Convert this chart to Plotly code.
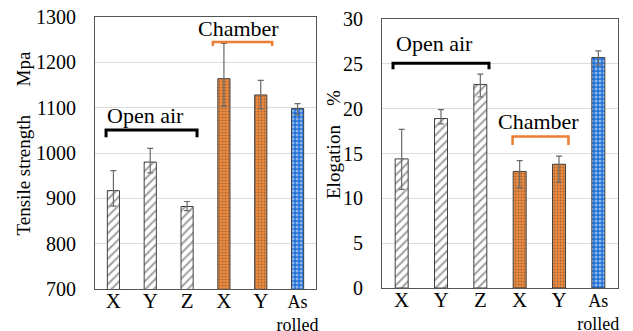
import plotly.graph_objects as go

# ---- data ----
categories = ["X", "Y", "Z", "X", "Y", "As rolled"]
groups = ["Open air", "Open air", "Open air", "Chamber", "Chamber", "As rolled"]

tensile = [917, 980, 882, 1164, 1128, 1098]
tensile_err_plus = [44, 30, 11, 78, 32, 11]
tensile_err_minus = [34, 24, 9, 61, 30, 14]

elong = [14.4, 18.9, 22.7, 13.0, 13.8, 25.7]
elong_err_plus = [3.3, 1.0, 1.15, 1.2, 0.9, 0.75]
elong_err_minus = [3.4, 0.6, 1.4, 1.8, 2.0, 0.85]

tensile_ticks = [700, 800, 900, 1000, 1100, 1200, 1300]
elong_ticks = [0, 5, 10, 15, 20, 25, 30]

# ---- styles ----
FONT = "Liberation Serif"
style = {
    "Open air": dict(shape="/", fg="#5a5a5a", bg="white", size=6, sol=0.35),
    "Chamber": dict(shape=".", fg="#FAC49B", bg="#F28A3C", size=3, sol=0.3),
    "As rolled": dict(shape=".", fg="white", bg="#1F6FD6", size=4, sol=0.45),
}
shapes_ = [style[g]["shape"] for g in groups]
fgs = [style[g]["fg"] for g in groups]
bgs = [style[g]["bg"] for g in groups]
sizes = [style[g]["size"] for g in groups]
sols = [style[g]["sol"] for g in groups]

xpos = list(range(len(categories)))
ticktext = [
    '<span style="font-size:21px">' + c + "</span>" if c != "As rolled" else "As<br>rolled"
    for c in categories
]

fig = go.Figure()


def add_bars(vals, ep, em, xa, ya):
    fig.add_trace(go.Bar(
        x=xpos, y=vals, xaxis=xa, yaxis=ya, width=0.33,
        marker=dict(
            color=bgs,
            line=dict(color="#404040", width=1),
            pattern=dict(shape=shapes_, fgcolor=fgs, size=sizes,
                         solidity=sols, fillmode="overlay"),
        ),
        error_y=dict(type="data", symmetric=False, array=ep, arrayminus=em,
                     color="#6a6a6a", thickness=1.2, width=3),
        showlegend=False,
    ))


add_bars(tensile, tensile_err_plus, tensile_err_minus, "x", "y")
add_bars(elong, elong_err_plus, elong_err_minus, "x2", "y2")

W, H = 633, 331
OFF = 8  # page body margin


def px(x):
    return (x - OFF) / W


def py(y):
    return 1 - (y - OFF) / H


xcommon = dict(
    tickmode="array", tickvals=xpos, ticktext=ticktext, range=[-0.5, 5.5],
    showline=True, linecolor="#555555", linewidth=1, mirror=True,
    showgrid=False, zeroline=False, ticks="", automargin=False,
    ticklabeloverflow="allow",
    tickfont=dict(family=FONT, size=18, color="black"), ticklabelstandoff=-4,
)
ycommon = dict(
    showline=True, linecolor="#555555", linewidth=1, mirror=True, automargin=False,
    showgrid=True, gridcolor="#dcdcdc", gridwidth=1, zeroline=False, ticks="",
    ticklabeloverflow="allow",
    tickfont=dict(family=FONT, size=20, color="black"), ticklabelstandoff=14,
)

fig.update_layout(
    width=W, height=H,
    margin=dict(l=0, r=0, t=0, b=0, autoexpand=False),
    paper_bgcolor="white", plot_bgcolor="white",
    barmode="overlay",
    xaxis=dict(domain=[px(95), px(316)], anchor="y", **xcommon),
    yaxis=dict(domain=[py(289), py(17)], anchor="x", range=[700, 1300],
               tickvals=tensile_ticks, **ycommon),
    xaxis2=dict(domain=[px(382), px(618)], anchor="y2", **xcommon),
    yaxis2=dict(domain=[py(288), py(19)], anchor="x2", range=[0, 30],
                tickvals=elong_ticks, **ycommon),
)

NB = "\u00a0"
annotations = [
    dict(text="Tensile strength" + NB * 6 + "Mpa", x=px(23), y=py(143.5),
         xref="paper", yref="paper", textangle=-90, showarrow=False,
         xanchor="center", yanchor="middle",
         font=dict(family=FONT, size=19, color="black")),
    dict(text="Elogation" + NB * 4 + "%", x=px(333), y=py(145),
         xref="paper", yref="paper", textangle=-90, showarrow=False,
         xanchor="center", yanchor="middle",
         font=dict(family=FONT, size=19, color="black")),
    dict(text="Open air", x=0.86, y=1083, xref="x", yref="y", showarrow=False,
         font=dict(family=FONT, size=22, color="black")),
    dict(text="Chamber", x=3.39, y=1275, xref="x", yref="y", showarrow=False,
         font=dict(family=FONT, size=22, color="black")),
    dict(text="Open air", x=0.83, y=27.3, xref="x2", yref="y2", showarrow=False,
         font=dict(family=FONT, size=22, color="black")),
    dict(text="Chamber", x=3.49, y=18.55, xref="x2", yref="y2", showarrow=False,
         font=dict(family=FONT, size=22, color="black")),
]
fig.update_layout(annotations=annotations)


def bracket(xa, ya, x0, x1, ytop, ybot, color, w):
    return dict(type="path", xref=xa, yref=ya,
                path=f"M {x0} {ybot} L {x0} {ytop} L {x1} {ytop} L {x1} {ybot}",
                line=dict(color=color, width=w))


fig.update_layout(shapes=[
    bracket("x", "y", -0.2, 2.27, 1051, 1035, "black", 3),
    bracket("x", "y", 2.70, 4.31, 1245, 1236, "#ED7D31", 2.5),
    bracket("x2", "y2", -0.22, 2.22, 25.06, 24.4, "black", 3),
    bracket("x2", "y2", 2.82, 4.24, 16.9, 15.95, "#ED7D31", 2.5),
])

fig.write_html("out.html")
